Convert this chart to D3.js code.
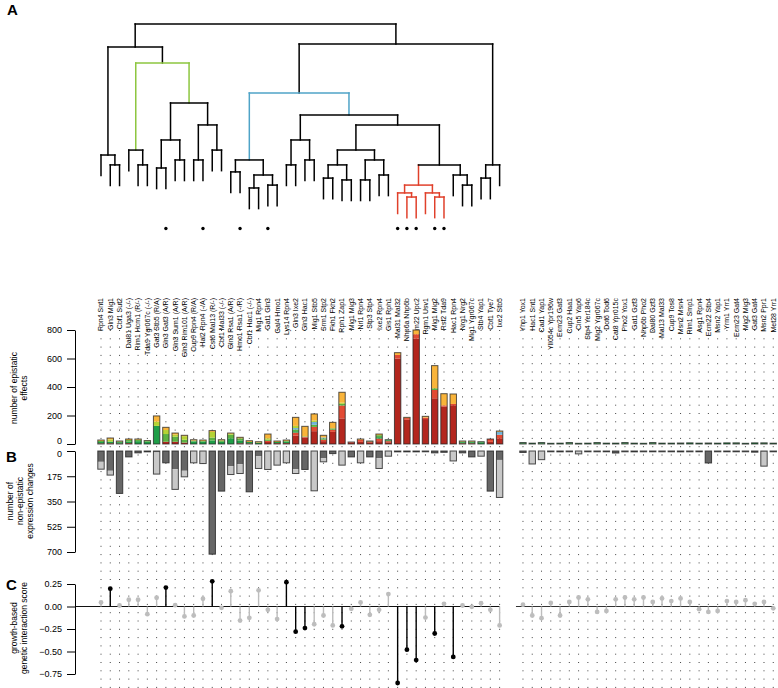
<!DOCTYPE html>
<html><head><meta charset="utf-8">
<script src="https://cdn.jsdelivr.net/npm/d3@7/dist/d3.min.js"></script>
<style>body{margin:0;background:#fff}svg{display:block;font-family:"Liberation Sans",Arial,sans-serif}</style>
</head><body><svg id="c" width="778" height="688"></svg>
<script>
const leftLabels=["Rpn4 Snt1","Gln3 Mig1","Cbf1 Sut2","Dal81 Uga3 (-/-)","Rim1 Hcm1 (R/-)","Tda9 Ygr067c (-/-)","Gat3 Stb5 (R/A)","Gln3 Gat3 (A/R)","Gln3 Sum1 (A/R)","Gln3 Rim101 (A/R)","Cup9 Rpn4 (R/A)","Hal2 Rpn4 (-/A)","Cst6 Mal13 (R/-)","Cbf1 Mal33 (-/-)","Gln3 Rsa1 (A/R)","Hmo1 Rsa1 (-/R)","Cbf1 Hac1 (-/-)","Mig1 Rpn4","Gat1 Gln3","Gal4 Hmo1","Lys14 Rpn4","Gln3 Ixe2","Gln3 Hac1","Mig1 Stb5","Srm1 Stp2","Fkh1 Fkh2","Rph1 Zap1","Mig1 Mig3","Nrl1 Rpn4","Stp3 Stp4","Ixe2 Rpn4","Gis1 Rph1","Mal31 Mal32","Nhp6a Nhp6b","Ecm22 Upc2","Rgm1 Usv1","Mig1 Mig2","Rsf2 Tda9","Hac1 Rpn4","Nrg1 Nrg2","Mig1 Ygr067c","Stb4 Yap1","Cbf1 Tye7","Ixe2 Stb5"];
const rightLabels=["Yhp1 Yox1","Hac1 Snt1","Cad1 Yap1","Yll054c Ypr196w","Ecm23 Gat3","Cup2 Haa1","Cin5 Yap6","Stp4 Yer184c","Mig2 Ygr067c","Dot6 Tod6","Cat8 Ypr015c","Pho2 Yox1","Gat1 Gzf3","Nhp6b Pho2","Dal80 Gzf3","Mal13 Mal33","Cup9 Tos8","Msn2 Msn4","Rlm1 Smp1","Asg1 Rpn4","Ecm22 Stb4","Msn2 Yap1","Yrm1 Yrr1","Ecm23 Gat4","Mig2 Mig3","Gat3 Gat4","Msn2 Ppr1","Met28 Yrr1"];
const marked=[7,11,15,18,32,33,34,36,37];
const catNames=["darkred","red","darkgreen","green","blue","yellowgreen","orange"];
const catColors=["#B3261E","#E24A33","#1F9E48","#5DB342","#6FB3D8","#B5D334","#F9B43A"];
const sDarkred=[4,5,3,6,0,0,0,16,16,10,0,0,0,0,0,5,4,0,14,6,6,60,45,90,20,85,180,10,15,12,20,12,600,170,740,175,321,262,272,5,5,0,15,40, 2,0,2,0,0,2,0,0,2,0,0,2,0,0,2,0,0,2,0,0,2,0,0,2,0,0,2,0];
const sRed=[0,0,0,0,0,0,0,0,0,0,0,0,0,0,0,0,0,0,8,0,0,20,4,30,10,15,90,4,15,6,18,8,25,12,30,10,58,9,9,0,0,0,20,25, 0,0,0,0,0,0,0,0,0,0,0,0,0,0,0,0,0,0,0,0,0,0,0,0,0,0,0,0];
const sDarkgreen=[10,12,10,10,20,16,127,0,0,0,18,16,25,15,40,20,10,10,0,8,10,10,0,0,0,0,0,0,0,0,10,6,0,0,0,0,0,0,0,8,8,12,0,0, 8,6,8,5,6,8,5,6,8,6,6,8,6,5,8,6,6,5,8,6,5,6,8,6,5,8,6,6];
const sGreen=[8,0,5,12,10,5,0,54,35,20,6,6,20,10,25,15,0,0,8,0,6,12,4,15,10,10,12,0,0,3,14,4,0,0,0,0,12,0,0,5,5,4,0,0, 0,0,0,0,0,0,0,0,0,0,0,0,0,0,0,0,0,0,0,0,0,0,0,0,0,0,0,0];
const sBlue=[0,0,0,0,0,0,0,0,0,0,0,0,0,0,0,0,0,0,0,0,0,10,0,20,6,0,0,0,0,0,0,0,0,0,0,0,0,0,0,0,0,0,0,20, 0,0,0,0,0,0,0,0,0,0,0,0,0,0,0,0,0,0,0,0,0,0,0,0,0,0,0,0];
const sYellowgreen=[0,15,0,0,0,0,30,28,14,25,0,0,40,0,7,0,0,0,10,0,0,15,0,10,0,0,8,0,0,0,0,0,0,0,0,0,0,0,0,0,0,0,0,0, 0,0,0,0,0,0,0,0,0,0,0,0,0,0,0,0,0,0,0,0,0,0,0,0,0,0,0,0];
const sOrange=[6,10,3,7,5,3,40,19,12,6,6,6,9,5,5,7,9,6,30,7,6,60,71,46,15,42,73,0,5,0,8,0,16,5,30,9,159,82,70,3,3,0,0,6, 0,0,0,0,0,0,0,0,0,0,0,0,0,0,0,0,0,0,0,0,0,0,0,0,0,0,0,0];
const bDark=[75,137,294,41,13,6,10,82,126,137,0,0,715,278,105,91,283,36,0,0,0,126,128,0,50,18,0,41,0,41,50,0,6,6,6,4,13,9,0,13,41,0,278,62, 10,0,0,4,6,3,0,4,3,5,14,3,6,3,5,3,4,6,3,5,83,3,5,4,3,8,5,4];
const bLight=[51,30,0,0,0,0,150,0,140,42,82,87,0,0,58,65,0,85,128,98,82,30,0,276,25,0,98,0,82,0,71,36,0,0,0,0,0,0,69,0,0,36,0,260, 0,90,60,0,0,0,20,0,0,0,0,0,0,0,0,0,0,0,0,0,0,0,0,0,0,0,100,0];
const cScore=[0.045,0.198,0.011,0.075,0.075,-0.085,0.097,0.21,0.015,-0.11,-0.10,0.086,0.28,-0.015,0.17,-0.156,-0.126,0.18,-0.037,-0.14,0.27,-0.28,-0.24,-0.197,-0.10,-0.21,-0.22,-0.026,0.045,-0.093,-0.037,0.138,-0.85,-0.48,-0.595,-0.123,-0.30,0.03,-0.56,0.011,-0.004,0.037,-0.037,-0.21,
 0.02,-0.10,-0.13,0.04,-0.10,0.05,0.10,0.08,-0.06,-0.05,0.08,0.10,0.08,0.10,0.05,0.09,0.06,0.09,0.05,-0.03,-0.06,-0.05,0.06,0.05,0.07,0.03,0.05,-0.02];
const cSig=[1,7,12,20,21,22,26,32,33,34,36,38];
const aTicks=[0,200,400,600,800], bTicks=[0,175,350,525,700], cTicks=[0.25,0,-0.25,-0.5,-0.75];
// dendrogram of the left group: [mergeHeight, left, right, colourTag]; "g"/"b" colour the node's top edges, "r" the whole subtree
const tree=[1.0,
  [0.888,[0.364,0,[0.316,1,2]],
         [0.811,[0.388,3,[0.316,4,5]],
                [0.617,[0.437,[0.301,6,7],[0.34,8,9]],[0.51,[0.34,10,11],[0.388,12,13]]],"g"]],
  [0.903,[0.665,[0.34,[0.282,14,15],[0.267,[0.204,16,17],[0.218,18,19]]],
                [0.558,[0.437,[0.316,20,21],[0.34,22,23]],
                       [0.51,[0.388,[0.316,[0.252,24,25],[0.243,26,27]],[0.34,[0.243,28,29],[0.267,30,31]]],
                             [0.316,[0.218,[0.18,32,[0.16,33,34]],[0.18,35,[0.16,36,37]],"r"],
                                    [0.267,38,[0.218,39,40]]]]],"b"],
         [0.316,[0.252,41,42],43]]];

const svg=d3.select("#c");
const N=leftLabels.length, M=rightLabels.length, gapSteps=1.52;
const idx=d3.range(N).concat(d3.range(M).map(j=>N+gapSteps+j));
const x=d3.scaleLinear().domain([0,1]).range([101,110.27]);
const xc=i=>x(idx[i]);
const total=N+M;
const yA=d3.scaleLinear().domain([0,800]).range([444,330]);
const yB=d3.scaleLinear().domain([0,700]).range([451,552]);
const yC=d3.scaleLinear().domain([-0.75,0.25]).range([674,584]);
const font='"Liberation Sans",Arial,sans-serif';

for(let i=0;i<total;i++){
  svg.append("line").attr("x1",xc(i)).attr("x2",xc(i)).attr("y1",330).attr("y2",688)
    .attr("stroke","#444").attr("stroke-width",1).attr("stroke-dasharray","1,7.3");
}
const labels=leftLabels.concat(rightLabels);
labels.forEach((t,i)=>{
  svg.append("text").attr("transform",`translate(${xc(i)+2.4},298) rotate(-90)`)
   .attr("text-anchor","end").attr("font-size",7).attr("fill","#000").text(t);
});
marked.forEach(i=>svg.append("circle").attr("cx",xc(i)).attr("cy",228.5).attr("r",1.7).attr("fill","#000"));

// dendrogram
const yT=d3.scaleLinear().domain([0,1]).range([230,24]);
const hang=0.1;
const colMap={g:"#8DC63F",b:"#4FA3C7",r:"#E0402B"};
function layout(n){
  if(typeof n==="number") return {x:xc(n),leaf:true};
  const a=layout(n[1]), b=layout(n[2]);
  return {x:(a.x+b.x)/2,h:n[0],a,b,tag:n[3]};
}
function seg(x1,y1,x2,y2,c){
  svg.append("line").attr("x1",x1).attr("x2",x2).attr("y1",y1).attr("y2",y2)
    .attr("stroke",c).attr("stroke-width",1.5).attr("stroke-linecap","square");
}
function drawT(nd,inherit){
  let c=inherit||"#000", childCol=inherit;
  if(nd.tag==="r"){c=colMap.r;childCol=c;}
  else if(nd.tag){c=colMap[nd.tag];}
  [nd.a,nd.b].forEach(ch=>{
    const yb=ch.leaf?yT(nd.h-hang):yT(ch.h);
    const ec=(ch.tag==="r")?colMap.r:c;
    seg(ch.x,yT(nd.h),ch.x,yb,ec);
  });
  seg(nd.a.x,yT(nd.h),nd.b.x,yT(nd.h),c);
  [nd.a,nd.b].forEach(ch=>{if(!ch.leaf)drawT(ch,childCol);});
}
drawT(layout(tree),null);

// panel A
const series=[sDarkred,sRed,sDarkgreen,sGreen,sBlue,sYellowgreen,sOrange];
const bw=6.4;
for(let i=0;i<total;i++){
  let acc=0;
  series.forEach((s,k)=>{
    const v=s[i]; if(!v) return;
    svg.append("rect").attr("x",xc(i)-bw/2).attr("width",bw)
      .attr("y",yA(acc+v)).attr("height",yA(acc)-yA(acc+v)).attr("fill",catColors[k]);
    acc+=v;
  });
  svg.append("rect").attr("x",xc(i)-bw/2).attr("width",bw).attr("y",yA(acc)).attr("height",Math.max(0.8,yA(0)-yA(acc)))
    .attr("fill","none").attr("stroke","#222").attr("stroke-width",1).attr("stroke-opacity",0.75);
}
// panel B
for(let i=0;i<total;i++){
  const d=bDark[i], l=bLight[i];
  if(d) svg.append("rect").attr("x",xc(i)-bw/2).attr("width",bw).attr("y",yB(0)).attr("height",yB(d)-yB(0)).attr("fill","#666");
  if(l) svg.append("rect").attr("x",xc(i)-bw/2).attr("width",bw).attr("y",yB(d)).attr("height",yB(d+l)-yB(d)).attr("fill","#c8c8c8");
  svg.append("rect").attr("x",xc(i)-bw/2).attr("width",bw).attr("y",yB(0)).attr("height",Math.max(0.8,yB(d+l)-yB(0)))
    .attr("fill","none").attr("stroke","#222").attr("stroke-width",1).attr("stroke-opacity",0.8);
}
// panel C
svg.append("line").attr("x1",75).attr("x2",xc(N-1)).attr("y1",yC(0)).attr("y2",yC(0)).attr("stroke","#111").attr("stroke-width",1.2);
svg.append("line").attr("x1",xc(N)-7).attr("x2",xc(total-1)).attr("y1",yC(0)).attr("y2",yC(0)).attr("stroke","#333").attr("stroke-width",1.2);
for(let i=0;i<total;i++){
  const sig=cSig.includes(i);
  const c=sig?"#000":"#bdbdbd";
  svg.append("line").attr("x1",xc(i)).attr("x2",xc(i)).attr("y1",yC(0)).attr("y2",yC(cScore[i])).attr("stroke",c).attr("stroke-width",1.4);
  svg.append("circle").attr("cx",xc(i)).attr("cy",yC(cScore[i])).attr("r",2.4).attr("fill",c);
}
function axis(scale,ticks,fmt,shift0){
  const g=svg.append("g").attr("transform","translate(75,0)")
   .call(d3.axisLeft(scale).tickValues(ticks).tickFormat(fmt).tickSize(8).tickSizeOuter(0));
  g.select(".domain").attr("stroke","#000").attr("stroke-width",1);
  g.selectAll("text").attr("font-size",9).attr("font-family",font).attr("dx",-2);
  if(shift0) g.selectAll(".tick").filter(d=>d===0).select("text").attr("dy",shift0);
  return g;
}
axis(yA,aTicks,d3.format("d"),"-0.05em");
axis(yB,bTicks,d3.format("d"),"0.62em");
axis(yC,cTicks,d3.format(".2f"));
function vtitle(lines,cx,cy){
  const t=svg.append("text").attr("transform",`translate(${cx},${cy}) rotate(-90)`).attr("text-anchor","middle").attr("font-size",8.5);
  lines.forEach((s,k)=>t.append("tspan").attr("x",0).attr("dy",k?10:0).text(s));
}
vtitle(["number of epistatic","effects"],17,388);
vtitle(["number of","non-epistatic","expression changes"],13,501);
vtitle(["growth-based","genetic interaction score"],17,628);
[["A",7,15],["B",6,462],["C",6,590]].forEach(d=>svg.append("text").attr("x",d[1]).attr("y",d[2]).attr("font-size",15).attr("font-weight","bold").text(d[0]));
</script></body></html>
